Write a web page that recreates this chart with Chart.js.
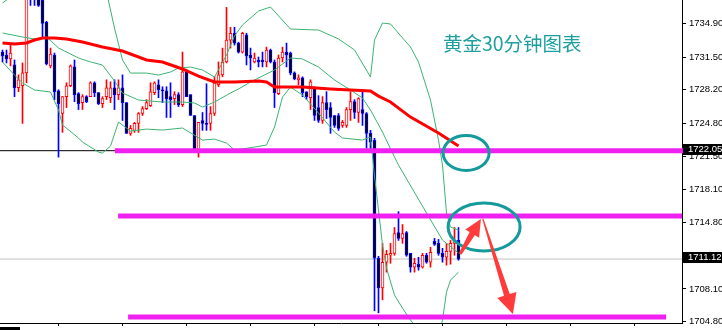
<!DOCTYPE html>
<html>
<head>
<meta charset="utf-8">
<script src="https://cdn.jsdelivr.net/npm/chart.js@4.4.1/dist/chart.umd.min.js"></script>
<style>
  html, body { margin: 0; padding: 0; background: #fff; overflow: hidden; }
  #wrap { width: 722px; height: 330px; }
</style>
</head>
<body>
<div id="wrap"><canvas id="gold" width="722" height="330"></canvas></div>
<script>
// ---- 30分足ローソク (bar index 0..114) ----
const openP = [
  1732.0,1731.7,1731.3,1730.7,1728.4,1728.6,1729.9,1738.3,1738.1,1737.6,
  1737.25,1735.0,1730.6,1731.7,1728.1,1725.8,1727.5,1728.6,1730.5,1727.8,
  1726.9,1727.5,1727.5,1728.9,1727.9,1726.8,1727.5,1727.4,1728.4,1727.7,
  1728.4,1726.9,1723.8,1724.1,1724.8,1725.8,1726.3,1726.6,1727.9,1728.7,
  1728.2,1728.1,1727.5,1727.3,1727.7,1726.7,1730.0,1727.7,1725.6,1722.1,
  1725.1,1724.8,1724.8,1725.8,1728.7,1729.7,1731.0,1733.2,1733.9,1732.9,
  1732.0,1733.7,1731.7,1731.0,1731.2,1731.2,1731.0,1732.2,1731.0,1727.8,
  1731.4,1732.0,1731.9,1729.9,1729.2,1729.4,1728.0,1727.4,1728.4,1726.4,
  1725.1,1726.9,1726.4,1725.6,1725.6,1724.6,1724.6,1726.2,1727.0,1725.9,
  1726.2,1725.8,1723.8,1723.1,1711.2,1708.2,1710.8,1711.5,1711.7,1713.8,
  1713.2,1713.8,1711.7,1710.3,1710.6,1710.3,1711.5,1710.8,1712.9,1712.7,
  1711.7,1711.3,1711.9,1712.7,1713.0
];
const highP = [
  1732.2,1732.2,1732.9,1731.2,1729.7,1730.9,1739.3,1738.8,1738.5,1737.8,
  1737.6,1735.1,1732.4,1731.9,1728.2,1727.5,1728.9,1730.7,1731.2,1727.9,
  1727.7,1727.6,1729.0,1729.0,1727.9,1727.5,1729.2,1729.0,1729.2,1729.2,
  1729.7,1726.9,1724.6,1724.9,1725.9,1726.5,1727.2,1728.9,1729.0,1729.2,
  1728.5,1728.5,1728.9,1728.0,1727.9,1732.0,1730.2,1727.7,1725.6,1724.9,
  1725.9,1728.8,1726.5,1729.5,1731.0,1732.4,1736.5,1734.5,1734.5,1733.0,
  1734.0,1733.9,1732.4,1731.9,1731.5,1732.0,1732.5,1732.3,1731.2,1731.7,
  1732.5,1732.9,1732.0,1730.0,1729.7,1729.5,1728.0,1729.2,1728.5,1727.6,
  1727.5,1728.0,1726.9,1725.6,1725.8,1725.1,1726.4,1728.0,1727.2,1727.4,
  1728.0,1725.9,1724.1,1723.3,1711.4,1712.7,1712.0,1712.7,1714.3,1715.9,
  1714.6,1713.9,1711.7,1711.2,1711.3,1711.7,1711.7,1712.3,1713.2,1713.1,
  1712.2,1712.7,1713.0,1714.3,1714.3
];
const lowP = [
  1731.0,1730.9,1730.6,1727.5,1728.0,1724.8,1728.9,1736.7,1736.7,1736.6,
  1733.5,1730.7,1730.4,1727.2,1721.4,1723.9,1726.4,1728.5,1727.0,1726.2,
  1726.2,1726.9,1727.5,1727.5,1726.7,1726.4,1727.2,1726.9,1726.2,1727.2,
  1725.1,1723.8,1723.6,1723.9,1723.9,1725.6,1726.2,1726.5,1727.7,1727.4,
  1726.9,1725.4,1725.4,1726.7,1726.5,1726.5,1727.5,1725.6,1721.9,1721.4,
  1724.1,1724.1,1724.1,1725.6,1728.5,1729.5,1730.9,1732.4,1732.7,1731.9,
  1731.9,1730.7,1730.2,1730.9,1730.5,1730.5,1730.5,1730.9,1726.4,1727.7,
  1731.0,1730.5,1729.7,1729.2,1728.7,1727.5,1727.2,1726.2,1725.1,1724.9,
  1724.8,1725.3,1723.8,1724.4,1724.1,1724.4,1724.4,1725.1,1725.3,1724.9,
  1724.6,1722.3,1722.1,1705.9,1705.7,1707.0,1709.8,1710.7,1711.5,1713.0,
  1712.7,1711.4,1709.8,1709.8,1710.0,1710.2,1710.7,1710.3,1712.5,1711.5,
  1710.8,1710.5,1710.6,1711.5,1711.0
];
const closeP = [
  1731.6,1731.3,1731.9,1728.4,1729.2,1729.9,1737.8,1737.5,1737.6,1736.7,
  1734.9,1730.8,1731.8,1728.0,1726.8,1727.5,1728.6,1730.6,1727.7,1726.8,
  1727.5,1727.0,1728.9,1727.9,1726.8,1727.3,1728.4,1728.4,1727.7,1728.4,
  1726.9,1723.8,1724.3,1724.8,1725.8,1726.3,1726.9,1728.0,1728.9,1728.2,
  1728.1,1727.3,1727.2,1727.7,1726.7,1730.0,1727.5,1725.6,1722.1,1724.9,
  1724.8,1724.7,1725.8,1728.9,1729.7,1731.0,1733.2,1733.9,1732.9,1732.0,
  1733.9,1731.6,1731.4,1731.4,1731.0,1731.0,1732.2,1731.0,1727.9,1731.4,
  1732.0,1731.7,1729.9,1729.3,1729.4,1727.9,1727.5,1729.0,1725.6,1725.1,
  1726.9,1726.2,1725.4,1724.6,1724.3,1724.9,1726.2,1727.0,1725.9,1727.3,
  1725.8,1723.8,1722.9,1711.2,1708.2,1710.8,1711.6,1711.7,1713.7,1713.2,
  1713.7,1711.5,1710.3,1710.7,1710.3,1711.5,1710.8,1711.8,1712.6,1711.7,
  1711.3,1711.9,1712.7,1713.0,1711.12
];

// ---- 移動平均線（赤） ----
const maIdx = [0,3,6,8,10,13,16,20,25,30,36,40,45,49,53,58,64,66,68,75,82,92,94,97,102,109,114];
const maVal = [1732.91,1732.81,1732.91,1733.21,1733.42,1733.42,1733.32,1733.01,1732.51,1732.10,
  1731.20,1730.99,1730.29,1729.58,1728.98,1728.98,1729.08,1728.98,1728.47,1728.47,
  1728.27,1728.07,1727.56,1726.96,1725.44,1723.83,1722.52];

// ---- ボリンジャーバンド（緑） ----
const bbUpIdx = [0,2,5,12,20,24,26,27,28,30,32,36,39,42,44,47,50,53,56,58,60,64,67,72,79,84,88,92,93,95,97,100,102,104,107,109,110,111,112,114];
const bbUpVal = [1736.95,1737.55,1738.46,1739.07,1739.67,1739.77,1738.06,1736.24,1734.42,1731.20,
  1729.88,1729.88,1729.68,1729.99,1730.39,1730.49,1730.19,1729.48,1731.70,1733.62,
  1734.73,1736.14,1736.54,1734.32,1734.22,1733.32,1732.21,1729.48,1733.21,1734.93,
  1734.83,1733.42,1732.51,1730.99,1727.16,1723.12,1720.60,1715.76,1714.35,1714.04];
const bbMidIdx = [0,5,8,11,14,19,22,25,28,30,34,40,45,48,50,53,57,59,62,68,72,75,79,83,87,90,92,95,98,99,105,110,114];
const bbMidVal = [1733.92,1733.52,1733.32,1733.52,1732.41,1731.40,1731.00,1730.69,1729.08,1727.87,
  1727.16,1726.96,1726.96,1726.86,1726.45,1726.96,1727.87,1728.27,1728.98,1730.19,
  1731.40,1731.30,1730.49,1729.18,1728.17,1727.36,1726.15,1723.93,1721.41,1720.60,
  1716.46,1713.03,1711.72];
const bbLowIdx = [0,3,5,8,12,14,15,19,20,24,25,27,29,32,36,40,45,50,53,56,58,60,63,66,68,70,72,75,79,83,85,90,92,93,94,95,96,98,100,102,104,107,109,110,111,112,113,114];
const bbLowVal = [1730.99,1729.68,1728.88,1728.17,1727.97,1726.15,1724.64,1723.33,1722.92,1721.91,
  1721.81,1722.52,1724.94,1724.03,1724.23,1724.13,1724.34,1723.12,1723.22,1722.82,
  1722.12,1722.22,1722.42,1722.62,1724.44,1727.46,1728.47,1727.66,1725.85,1723.93,
  1723.33,1723.12,1723.43,1719.50,1716.06,1712.53,1710.21,1707.48,1706.17,1704.96,
  1703.95,1703.15,1703.45,1704.96,1707.79,1708.99,1709.40,1709.80];

// ---- 軸 ----
const yTicks = [1704.80,1708.10,1711.40,1714.80,1718.10,1721.50,1724.80,1728.20,1731.50,1734.90];
const xTickBars = [-2,14,30,46,62,78,94,110,126,142,158];
const xTickLabels = ['8 Mar 08:00','8 Mar 16:00','9 Mar 00:00','9 Mar 08:00','9 Mar 16:00','10 Mar 00:00',
  '10 Mar 08:00','10 Mar 16:00','11 Mar 00:00','11 Mar 08:00','11 Mar 16:00'];

// ---- 手書きの水平線・価格タグ ----
const blackLinePrice = 1722.05;
const bidPrice = 1711.12;
const levelPrice = [1722.05, 1715.47, 1705.28];
const levelFrom = [28.1, 28.9, 31.4];
const levelTo = [171.4, 169.9, 165.9];
const priceTags = [1722.05, 1711.12];

// ---- 楕円と矢印（バー番号, 価格） ----
const ellBar = [115.9, 120.4];
const ellPrice = [1721.82, 1714.35];
const ellRadBar = [5.75, 9.0];
const ellRadPrice = [1.77, 2.42];
const arrowTail = [[114.4, 1711.63], [120.1, 1715.16]];
const arrowTip = [[119.6, 1715.16], [127.6, 1705.58]];

const chartTitle = '黄金30分钟图表';
const titleAt = [110.1, 1732.85];

const X_MIN = -0.625, X_MAX = 169.875;
const Y_MIN = 1704.67, Y_MAX = 1737.25;
const TICK_FONT = { family: 'Liberation Sans', size: 9.5 };

const isBull = closeP.map((c, i) => c >= openP[i]);
const lineColor = isBull.map(b => b ? '#ff0000' : '#0000ff');
const bodyFill = isBull.map(b => b ? '#ffffff' : '#000000');

function lineSet(idx, val, color, width, order, clip) {
  return {
    type: 'line',
    data: idx.map((b, k) => ({ x: b, y: val[k] })),
    borderColor: color,
    borderWidth: width,
    pointRadius: 0,
    tension: 0,
    fill: false,
    order: order,
    clip: clip
  };
}

const datasets = [
  lineSet([X_MIN, X_MAX], [bidPrice, bidPrice], '#c0c0c0', 1, 9, 0),
  lineSet([X_MIN, X_MAX], [blackLinePrice, blackLinePrice], '#000000', 1, 9, 0),
  {
    type: 'bar',
    data: highP.map((h, i) => ({ x: i, y: [lowP[i], h] })),
    backgroundColor: lineColor,
    borderWidth: 0,
    barThickness: 1,
    grouped: false,
    order: 8,
    clip: 0
  },
  {
    type: 'bar',
    data: openP.map((o, i) => ({ x: i, y: [o, closeP[i]] })),
    backgroundColor: bodyFill,
    borderColor: lineColor,
    borderWidth: 1,
    borderSkipped: false,
    barThickness: 3,
    minBarLength: 1,
    grouped: false,
    order: 7,
    clip: 0
  },
  lineSet(bbUpIdx, bbUpVal, '#3cb371', 1, 5, 0),
  lineSet(bbMidIdx, bbMidVal, '#3cb371', 1, 5, 0),
  lineSet(bbLowIdx, bbLowVal, '#3cb371', 1, 5, 0),
  lineSet(maIdx, maVal, '#ff0000', 3, 4, 0)
];
levelPrice.forEach((p, k) => {
  const ds = lineSet([levelFrom[k], levelTo[k]], [p, p], '#f020f0', 5, 1, false);
  ds.borderCapStyle = 'butt';
  datasets.push(ds);
});

function drawArrow(ctx, p0, p1, w0, w1, hl, hw, color) {
  const dx = p1[0] - p0[0], dy = p1[1] - p0[1];
  const len = Math.hypot(dx, dy);
  const ux = dx / len, uy = dy / len, nx = -uy, ny = ux;
  const bx = p1[0] - ux * hl, by = p1[1] - uy * hl;
  ctx.beginPath();
  ctx.moveTo(p0[0] + nx * w0, p0[1] + ny * w0);
  ctx.lineTo(bx + nx * w1, by + ny * w1);
  ctx.lineTo(bx + nx * hw, by + ny * hw);
  ctx.lineTo(p1[0], p1[1]);
  ctx.lineTo(bx - nx * hw, by - ny * hw);
  ctx.lineTo(bx - nx * w1, by - ny * w1);
  ctx.lineTo(p0[0] - nx * w0, p0[1] - ny * w0);
  ctx.closePath();
  ctx.fillStyle = color;
  ctx.fill();
}

// 楕円・矢印・タイトル・価格タグ
const drawings = {
  id: 'drawings',
  afterDatasetsDraw(chart) {
    const { ctx, chartArea } = chart;
    const xs = chart.scales.x, ys = chart.scales.y;
    const px = (b, p) => [xs.getPixelForValue(b), ys.getPixelForValue(p)];
    ctx.save();

    ctx.strokeStyle = '#159a9c';
    ctx.lineWidth = 3;
    ellBar.forEach((b, k) => {
      const [cx, cy] = px(b, ellPrice[k]);
      const rx = Math.abs(xs.getPixelForValue(b + ellRadBar[k]) - cx);
      const ry = Math.abs(ys.getPixelForValue(ellPrice[k] + ellRadPrice[k]) - cy);
      ctx.beginPath();
      ctx.ellipse(cx, cy, rx, ry, 0, 0, Math.PI * 2);
      ctx.stroke();
    });

    drawArrow(ctx, px(...arrowTail[0]), px(...arrowTip[0]), 1.5, 3, 17, 8, '#ff3b3b');
    drawArrow(ctx, px(...arrowTail[1]), px(...arrowTip[1]), 0.6, 3, 20, 10, '#ff3b3b');

    const [tx, ty] = px(...titleAt);
    ctx.font = '19.5px "Noto Sans CJK SC"';
    ctx.fillStyle = '#1e9fa0';
    ctx.textBaseline = 'middle';
    ctx.textAlign = 'left';
    ctx.fillText(chartTitle, tx, ty);

    ctx.font = '9.5px "Liberation Sans"';
    priceTags.forEach(v => {
      const py = ys.getPixelForValue(v);
      ctx.fillStyle = '#000';
      ctx.fillRect(chartArea.right + 1, Math.round(py) - 7, 40, 11);
      ctx.fillStyle = '#fff';
      ctx.fillText(v.toFixed(2), chartArea.right + 6, Math.round(py) - 1.5);
    });

    ctx.fillStyle = '#000';
    ctx.fillRect(chartArea.left, chartArea.bottom + 4, 20, 10);
    ctx.restore();
  }
};

new Chart(document.getElementById('gold'), {
  type: 'bar',
  data: { datasets },
  plugins: [drawings],
  options: {
    responsive: false,
    animation: false,
    devicePixelRatio: 1,
    layout: { padding: 0 },
    plugins: { legend: { display: false }, tooltip: { enabled: false } },
    scales: {
      x: {
        type: 'linear',
        position: 'bottom',
        min: X_MIN,
        max: X_MAX,
        offset: false,
        grid: { drawOnChartArea: false, drawTicks: true, tickLength: 3, color: '#000', offset: false },
        border: { display: true, color: '#000', width: 1 },
        ticks: {
          autoSkip: false, maxRotation: 0, align: 'start', padding: 2,
          color: '#000', font: TICK_FONT,
          callback: (v, i) => xTickLabels[i]
        },
        afterBuildTicks: s => { s.ticks = xTickBars.map(v => ({ value: v })); },
        afterFit: s => { s.height = 7; s.paddingLeft = 0; s.paddingRight = 0; }
      },
      y: {
        type: 'linear',
        position: 'right',
        min: Y_MIN,
        max: Y_MAX,
        grid: { drawOnChartArea: false, drawTicks: true, tickLength: 4, color: '#000' },
        border: { display: true, color: '#000', width: 1 },
        ticks: { padding: 3, color: '#000', font: TICK_FONT, callback: v => v.toFixed(2) },
        afterBuildTicks: s => { s.ticks = yTicks.map(v => ({ value: v })); },
        afterFit: s => { s.width = 40; s.paddingTop = 0; s.paddingBottom = 0; }
      }
    }
  }
});
</script>
</body>
</html>
